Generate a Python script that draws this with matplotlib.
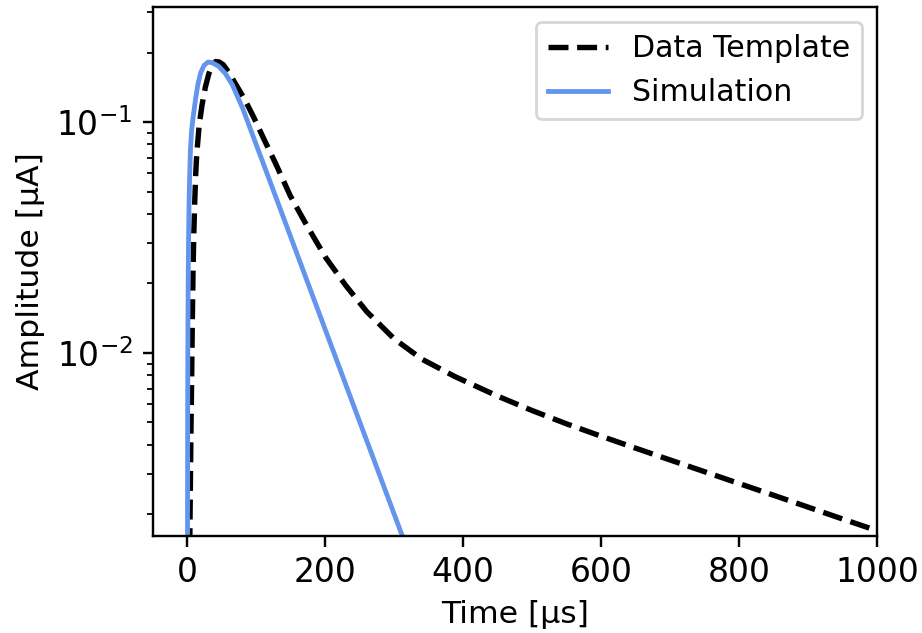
import numpy as np
import matplotlib
matplotlib.use("Agg")
import matplotlib.pyplot as plt

# Data template pulse
template_t = [0, 3, 5, 6, 7, 8, 9.2, 10.6, 12, 13.5, 17, 21, 26, 31, 36, 41, 46, 52, 60,
              67, 76, 85, 96, 112, 128, 149, 170, 200, 229, 260, 300, 340, 388, 450,
              500, 550, 600, 650, 700, 750, 800, 850, 900, 950, 1000]
template_amp = [1e-4, 0.0012, 0.0045, 0.0075, 0.0135, 0.022, 0.033, 0.046, 0.060, 0.073,
                0.097, 0.118, 0.142, 0.162, 0.176, 0.183, 0.182, 0.177, 0.164,
                0.151, 0.136, 0.122, 0.105, 0.083, 0.066, 0.048, 0.037, 0.026,
                0.0197, 0.0151, 0.0115, 0.0094, 0.0079, 0.0065,
                0.00563, 0.00493, 0.00436, 0.00387, 0.00344, 0.00306, 0.00272,
                0.00242, 0.00215, 0.00191, 0.0017]

# Simulated pulse
sim_t = [0, 0.1, 0.3, 0.6, 1.0, 1.5, 2.2, 3.0, 4.3, 6, 8, 11.6, 15, 19, 24, 30, 36, 45,
         55, 65, 80, 86, 100, 108, 131, 160, 183, 210, 230, 250, 270, 290, 311, 330]
sim_amp = [1e-4, 0.002, 0.006, 0.012, 0.02, 0.03, 0.043, 0.056, 0.076, 0.092, 0.104,
           0.125, 0.145, 0.163, 0.176, 0.182, 0.1807, 0.1746, 0.1622, 0.1452, 0.1148,
           0.1028, 0.0794, 0.0686, 0.0449, 0.0263, 0.0172, 0.01047, 0.00724, 0.00501,
           0.00347, 0.0024, 0.00163, 0.00115]

s = 1.08  # scale from pt at 216 dpi to 200 dpi
plt.rcParams['font.size'] = 10 * s
plt.rcParams['axes.labelsize'] = 10.5 * s
plt.rcParams['xtick.labelsize'] = 11 * s
plt.rcParams['ytick.labelsize'] = 11 * s
plt.rcParams['legend.fontsize'] = 10 * s
plt.rcParams['axes.linewidth'] = 0.8 * s
plt.rcParams['xtick.major.size'] = 3.5 * s
plt.rcParams['ytick.major.size'] = 3.5 * s
plt.rcParams['xtick.minor.size'] = 2 * s
plt.rcParams['ytick.minor.size'] = 2 * s
plt.rcParams['xtick.major.width'] = 0.8 * s
plt.rcParams['ytick.major.width'] = 0.8 * s
plt.rcParams['ytick.minor.width'] = 0.6 * s

fig, ax = plt.subplots(figsize=(4.61, 3.165), dpi=200)
fig.subplots_adjust(left=153/922, right=877/922, bottom=1-535.5/633, top=1-7/633)

ax.plot(template_t, template_amp, '--', color='k', lw=1.8 * s, label='Data Template')
ax.plot(sim_t, sim_amp, '-', color='cornflowerblue', lw=1.6 * s, label='Simulation')

ax.set_yscale('log')
ax.set_xlim(-50, 1000)
ax.set_ylim(0.00162, 0.315)
ax.set_xlabel('Time [µs]')
ax.set_ylabel('Amplitude [µA]')
ax.legend(loc='upper right')

fig.savefig('out.png', dpi=200)
